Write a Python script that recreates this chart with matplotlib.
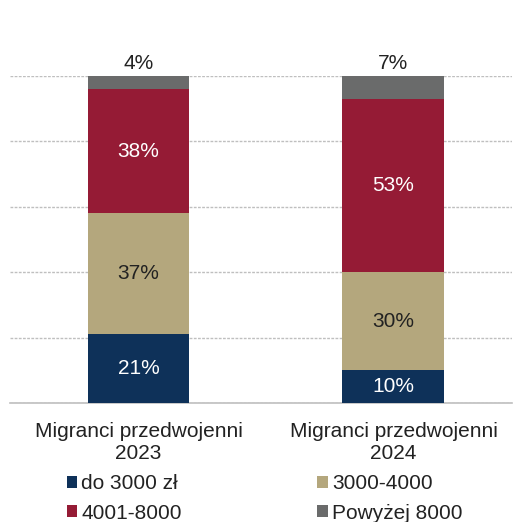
import matplotlib.pyplot as plt
import numpy as np

plt.rcParams['font.family'] = ['Liberation Sans', 'DejaVu Sans']

groups = ['Migranci przedwojenni\n2023', 'Migranci przedwojenni\n2024']
series = ['do 3000 zł', '3000-4000', '4001-8000', 'Powyżej 8000']
do_3000 = [21, 10]
od_3000_4000 = [37, 30]
od_4001_8000 = [38, 53]
powyzej_8000 = [4, 7]
colors = ['#0E3159', '#B4A77D', '#951B35', '#6A6B6B']
label_colors = ['white', '#222222', 'white', '#222222']

values = [do_3000, od_3000_4000, od_4001_8000, powyzej_8000]

fig = plt.figure(figsize=(5.16, 5.22), dpi=100)
ax = fig.add_axes([10 / 516, 1 - 403 / 522, 502 / 516, 327 / 522])

x = np.arange(len(groups))
bottom = np.zeros(len(groups))
handles = []
for i, (name, vals) in enumerate(zip(series, values)):
    bars = ax.bar(x, vals, 0.40, bottom=bottom, color=colors[i], label=name, zorder=3)
    handles.append(bars)
    for xi, b, v in zip(x, bottom, vals):
        if i == len(series) - 1:
            ax.text(xi, b + v + 0.8, f'{v}%', ha='center', va='bottom', fontsize=15, color='#222222')
        else:
            ax.text(xi, b + v / 2, f'{v}%', ha='center', va='center', fontsize=15, color=label_colors[i])
    bottom += np.array(vals)

ax.set_xlim(-0.504, 1.465)
ax.set_ylim(0, 100)
ax.set_yticks([0, 20, 40, 60, 80, 100])
ax.yaxis.grid(True, color='#BFBFBF', linestyle=(0, (2, 1)), linewidth=1, zorder=0)
ax.tick_params(axis='y', left=False, labelleft=False)
ax.tick_params(axis='x', bottom=False, labelsize=15, pad=10)
ax.set_xticks(x)
ax.set_xticklabels(groups, color='#222222', linespacing=1.2)
for s in ['top', 'right', 'left']:
    ax.spines[s].set_visible(False)
ax.spines['bottom'].set_color('#BFBFBF')
ax.spines['bottom'].set_linewidth(1.2)

order = [0, 2, 1, 3]
fig.legend([handles[k] for k in order], [series[k] for k in order], ncol=2,
           loc='lower left', bbox_to_anchor=(48 / 516, -0.037), frameon=False,
           fontsize=15, handlelength=0.5, handleheight=0.5, handletextpad=0.2,
           columnspacing=6.5, labelspacing=0.5, labelcolor='#222222')

fig.savefig('out.png', dpi=100)
